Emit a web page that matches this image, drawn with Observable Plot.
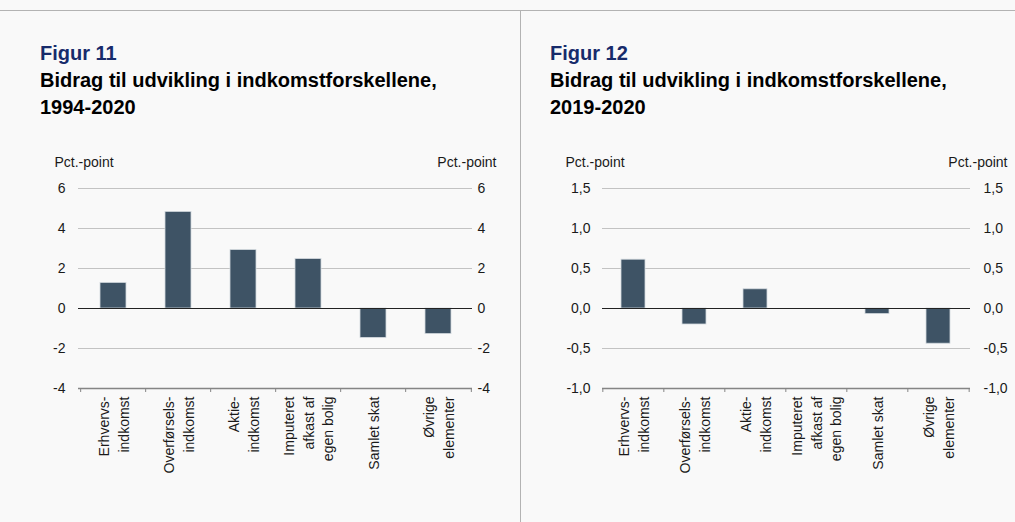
<!DOCTYPE html>
<html>
<head>
<meta charset="utf-8">
<script src="https://cdn.jsdelivr.net/npm/d3@7"></script>
<script src="https://cdn.jsdelivr.net/npm/@observablehq/plot@0.6"></script>
<style>
  html, body { margin: 0; padding: 0; }
  body { width: 1015px; height: 522px; background: #f9f9f9; position: relative; overflow: hidden;
         font-family: "Liberation Sans", Arial, sans-serif; }
  .topline { position: absolute; left: 0; top: 10px; width: 1015px; height: 1px; background: #b3b3b3; }
  .divider { position: absolute; left: 520px; top: 10px; width: 1px; height: 512px; background: #b3b3b3; }
  .title { position: absolute; top: 40px; font-weight: bold; font-size: 20px; line-height: 27px; color: #000; white-space: nowrap; }
  .title .fig { color: #172b6b; }
  .chart { position: absolute; top: 140px; }
</style>
</head>
<body>
<div class="topline"></div>
<div class="divider"></div>
<div class="title" style="left:40px"><div class="fig">Figur 11</div><div>Bidrag til udvikling i indkomstforskellene,</div><div>1994-2020</div></div>
<div class="title" style="left:550px"><div class="fig">Figur 12</div><div>Bidrag til udvikling i indkomstforskellene,</div><div>2019-2020</div></div>
<div class="chart" id="c1" style="left:0px"></div>
<div class="chart" id="c2" style="left:520px"></div>
<script>
const categories = ["Erhvervs-\nindkomst", "Overførsels-\nindkomst", "Aktie-\nindkomst", "Imputeret\nafkast af\negen bolig", "Samlet skat", "Øvrige\nelementer"];
const values1994 = [1.28, 4.83, 2.92, 2.47, -1.47, -1.28];
const values2019 = [0.61, -0.20, 0.24, 0.0, -0.07, -0.44];
const ticks1994 = [-4, -2, 0, 2, 4, 6];
const ticks2019 = [-1, -0.5, 0, 0.5, 1, 1.5];
const unitLabel = "Pct.-point";

function draw({values, ticks, fmt, width, marginLeft, marginRight, padL, padR, unitDxL, unitDxR}) {
  const data = categories.map((c, i) => ({cat: c, value: values[i]}));
  const min = d3.min(ticks), max = d3.max(ticks);
  const step = (width - marginLeft - marginRight) / categories.length;
  const axisColor = "#858585";
  return Plot.plot({
    width, height: 382, marginTop: 48, marginBottom: 134, marginLeft, marginRight,
    style: {background: "transparent", fontFamily: "'Liberation Sans', Arial, sans-serif", fontSize: "14px", color: "#1a1a1a", overflow: "visible"},
    x: {domain: categories, paddingInner: 0.6, paddingOuter: 0.3, axis: null},
    y: {domain: [min, max], axis: null, label: null},
    marks: [
      Plot.ruleY(ticks.filter(t => t !== 0 && t !== min), {stroke: "#c3c3c3", strokeWidth: 1}),
      Plot.barY(data, {x: "cat", y: "value", fill: "#3e5365", stroke: "#d3d9de", strokeWidth: 0.8}),
      Plot.ruleY([0], {stroke: "#222", strokeWidth: 1}),
      Plot.ruleY([min], {stroke: axisColor, strokeWidth: 1.5}),
      Plot.ruleX(categories, {x: d => d, y1: min, y2: min, insetBottom: -4, dx: -step / 2, stroke: axisColor, strokeWidth: 1}),
      Plot.ruleX([categories[categories.length - 1]], {x: d => d, y1: min, y2: min, insetBottom: -4, dx: step / 2, stroke: axisColor, strokeWidth: 1}),
      Plot.axisY(ticks, {anchor: "left", tickSize: 0, tickPadding: padL, tickFormat: fmt, label: null, fontSize: 14}),
      Plot.axisY(ticks, {anchor: "right", tickSize: 0, tickPadding: padR, tickFormat: fmt, label: null, fontSize: 14}),
      Plot.text([unitLabel], {frameAnchor: "top-left", textAnchor: "start", lineAnchor: "middle", dx: unitDxL, dy: -26, fontSize: 14}),
      Plot.text([unitLabel], {frameAnchor: "top-right", textAnchor: "end", lineAnchor: "middle", dx: unitDxR, dy: -26, fontSize: 14}),
      Plot.text(categories, {x: d => d, y: min, text: d => d, rotate: -90, textAnchor: "end", lineAnchor: "middle", dx: -1, dy: 8, lineHeight: 1.4, fontSize: 14})
    ]
  });
}

document.getElementById("c1").appendChild(draw({
  values: values1994, ticks: ticks1994, fmt: d => String(d),
  width: 520, marginLeft: 78, marginRight: 48, padL: 13, padR: 5, unitDxL: -24, unitDxR: 24
}));
document.getElementById("c2").appendChild(draw({
  values: values2019, ticks: ticks2019, fmt: d => d.toFixed(1).replace(".", ","),
  width: 495, marginLeft: 82, marginRight: 45, padL: 12, padR: 13, unitDxL: -37, unitDxR: 37
}));
</script>
</body>
</html>
